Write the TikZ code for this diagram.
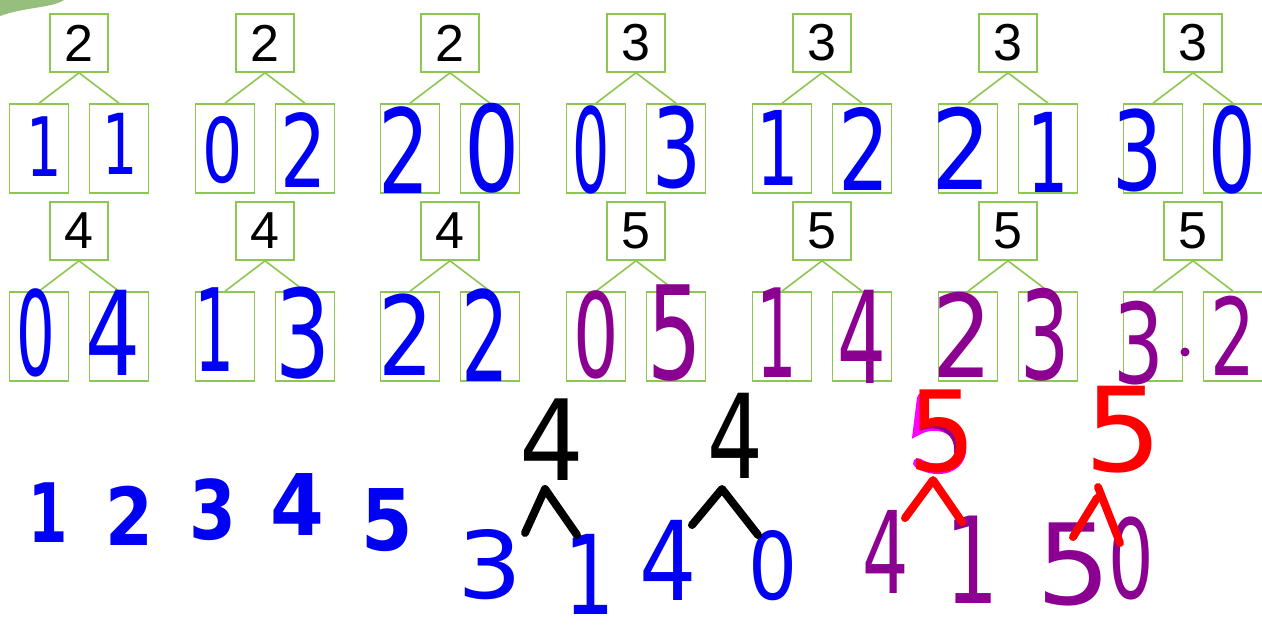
\documentclass[tikz,border=0pt]{standalone}
\usepackage{fontspec}
\usepackage{graphicx}
\setmainfont{Liberation Sans}
\newfontfamily\hwf{DejaVu Sans}
\newfontfamily\hwb{DejaVu Sans Bold}
\definecolor{bondgreen}{RGB}{141,198,80}
\definecolor{hblue}{RGB}{0,0,245}
\definecolor{hpurple}{RGB}{140,0,145}
\definecolor{hred}{RGB}{255,0,0}
\definecolor{hmag}{RGB}{255,0,255}
\definecolor{blobgreen}{RGB}{150,190,125}
\newcommand{\hd}[2]{\scalebox{#1}[1]{#2}}
\begin{document}
\begin{tikzpicture}[x=1pt,y=-1pt,
  box/.style={draw=bondgreen,line width=1.6pt,inner sep=0pt},
  topbox/.style={box,minimum width=58pt,minimum height=58pt,font=\fontsize{52}{52}\selectfont},
  partbox/.style={box,minimum width=59pt,minimum height=89pt},
  gl/.style={draw=bondgreen,line width=1.6pt},
  hw/.style={inner sep=0pt,font=\hwf\fontsize{#1}{#1}\selectfont},
  hwbold/.style={inner sep=0pt,font=\hwb\fontsize{#1}{#1}\selectfont},
  ink/.style={line width=8pt,line cap=round,line join=round}]
\fill[white] (0,0) rectangle (1262,630);
\useasboundingbox (0,0) rectangle (1262,630);
% green blob top-left
\fill[blobgreen] (0,0) -- (64,0) .. controls (52,8) and (25,7) .. (0,16) -- cycle;
% printed number bonds
\foreach \i/\c/\y/\t in {1/79/0/2, 2/265/0/2, 3/450/0/2, 4/636/0/3, 5/822/0/3, 6/1008/0/3, 7/1193/0/3,
  8/79/188/4, 9/265/188/4, 10/450/188/4, 11/636/188/5, 12/822/188/5, 13/1008/188/5, 14/1193/188/5}{
  \node[topbox] (t\i) at (\c,43+\y) {\t};
  \node[partbox] (l\i) at (\c-40,148.5+\y) {};
  \node[partbox] (r\i) at (\c+40,148.5+\y) {};
  \draw[gl] (t\i.south) -- (l\i.north);
  \draw[gl] (t\i.south) -- (r\i.north);
}
% handwritten answers row 1
\node[hw=82,text=hblue] (a1) at (44,147) {\hd{0.68}{1}};
\node[hw=84,text=hblue] (b1) at (120,144) {\hd{0.66}{1}};
\node[hw=89,text=hblue] (a2) at (223,150) {\hd{0.71}{0}};
\node[hw=101,text=hblue] (b2) at (304,150) {\hd{0.72}{2}};
\node[hw=117,text=hblue] (a3) at (404,150) {\hd{0.69}{2}};
\node[hw=119,text=hblue] (b3) at (492,148) {\hd{0.73}{0}};
\node[hw=117,text=hblue] (a4) at (591,150) {\hd{0.5}{0}};
\node[hw=110,text=hblue] (b4) at (677,147) {\hd{0.7}{3}};
\node[hw=103,text=hblue] (a5) at (778,148) {\hd{0.65}{1}};
\node[hw=112,text=hblue] (b5) at (864,149) {\hd{0.72}{2}};
\node[hw=111,text=hblue] (a6) at (962,148) {\hd{0.85}{2}};
\node[hw=110,text=hblue] (b6) at (1048,152) {\hd{0.59}{1}};
\node[hw=110,text=hblue] (a7) at (1138,150) {\hd{0.72}{3}};
\node[hw=117,text=hblue] (b7) at (1232,150) {\hd{0.64}{0}};
% row 2
\node[hw=117,text=hblue] (a8) at (36,333) {\hd{0.52}{0}};
\node[hw=117,text=hblue] (b8) at (113,333) {\hd{0.74}{4}};
\node[hw=115,text=hblue] (a9) at (215,330) {\hd{0.55}{1}};
\node[hw=122,text=hblue] (b9) at (303,333) {\hd{0.71}{3}};
\node[hw=110,text=hblue] (a10) at (406,335) {\hd{0.79}{2}};
\node[hw=125,text=hblue] (b10) at (485,335) {\hd{0.6}{2}};
\node[hw=117,text=hpurple] (a11) at (596,335) {\hd{0.61}{0}};
\node[hw=130,text=hpurple] (b11) at (675,333) {\hd{0.66}{5}};
\node[hw=123,text=hpurple] (a12) at (777,333) {\hd{0.52}{1}};
\node[hw=128,text=hpurple] (b12) at (862,337) {\hd{0.6}{4}};
\node[hw=115,text=hpurple] (a13) at (962,335) {\hd{0.82}{2}};
\node[hw=123,text=hpurple] (b13) at (1045,335) {\hd{0.63}{3}};
\node[hw=111,text=hpurple] (a14) at (1139,343) {\hd{0.72}{3}};
\node[hw=107,text=hpurple] (b14) at (1233,336) {\hd{0.66}{2}};
\fill[hpurple] (1185,352) circle (4.5);
% counting numbers
\node[hwbold=82,text=hblue] (n1) at (48,513) {\hd{0.69}{1}};
\node[hwbold=80,text=hblue] (n2) at (129,516) {\hd{0.86}{2}};
\node[hwbold=82,text=hblue] (n3) at (213,510) {\hd{0.82}{3}};
\node[hwbold=85,text=hblue] (n4) at (297,505) {\hd{0.91}{4}};
\node[hwbold=85,text=hblue] (n5) at (387,520) {\hd{0.87}{5}};
% hand-drawn bond A
\node[hw=112,text=black] (A) at (552,440) {\hd{0.91}{4}};
\node[hw=93,text=hblue] (Al) at (490,565) {\hd{1.1}{3}};
\node[hw=110,text=hblue] (Ar) at (590,574) {\hd{0.72}{1}};
\coordinate (Aa) at (545,489);
\coordinate (Al1) at (525,533);
\coordinate (Ar1) at (577,535);
\draw[ink,black] (Al1) -- (Aa) -- (Ar1);
% hand-drawn bond B
\node[hw=117,text=black] (B) at (735,436) {\hd{0.75}{4}};
\node[hw=110,text=hblue] (Bl) at (668,560) {\hd{0.82}{4}};
\node[hw=93,text=hblue] (Br) at (773,566) {\hd{0.83}{0}};
\coordinate (Ba) at (722,489);
\coordinate (Bl1) at (692,525);
\coordinate (Br1) at (758,535);
\draw[ink,black] (Bl1) -- (Ba) -- (Br1);
% hand-drawn bond C
\draw[line width=10pt,hmag,line cap=round] (922,398) -- (918,430) .. controls (935,420) and (963,428) .. (961,452) .. controls (958,470) and (935,474) .. (918,463);
\draw[line width=4pt,hpurple,line cap=round] (925,400) -- (922,428) .. controls (938,422) and (958,432) .. (956,452);
\node[hw=112,text=hred] (C) at (942,431) {\hd{0.95}{5}};
\node[hw=114,text=hpurple] (Cl) at (886,552) {\hd{0.64}{4}};
\node[hw=120,text=hpurple] (Cr) at (972,560) {\hd{0.7}{1}};
\coordinate (Ca) at (933,480);
\coordinate (Cl1) at (905,518);
\coordinate (Cr1) at (962,522);
\draw[ink,hred] (Cl1) -- (Ca) -- (Cr1);
% hand-drawn bond D
\node[hw=117,text=hred] (D) at (1124,430) {\hd{1.05}{5}};
\node[hw=112,text=hpurple] (Dl) at (1074,564) {\hd{1.05}{5}};
\node[hw=110,text=hpurple] (Dr) at (1131,558) {\hd{0.65}{0}};
\coordinate (Da) at (1098,487);
\coordinate (Db) at (1097,498);
\coordinate (Dr1) at (1120,543);
\coordinate (Dl1) at (1073,537);
\draw[ink,hred] (Da) -- (Dr1);
\draw[ink,hred] (Db) -- (Dl1);
\end{tikzpicture}
\end{document}
